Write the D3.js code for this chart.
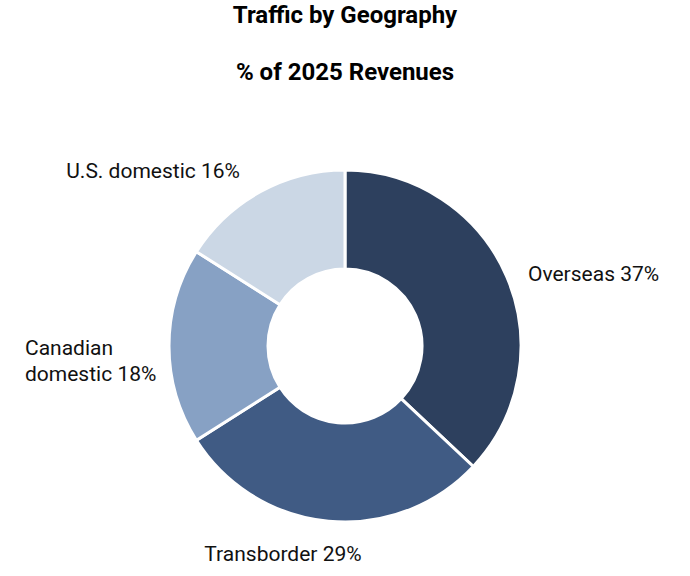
<!DOCTYPE html>
<html><head><meta charset="utf-8">
<script src="https://cdn.jsdelivr.net/npm/d3@7"></script>
<style>body{margin:0;background:#fff}text{font-family:Roboto,sans-serif}</style>
</head><body>
<svg id="chart" width="690" height="576"></svg>
<script>
var categories = ["Overseas", "Transborder", "Canadian domestic", "U.S. domestic"];
var shares = [37, 29, 18, 16];
var colors = ["#2d405e", "#405b84", "#87a1c4", "#cbd7e5"];
// label lines per slice and their anchor positions
var labelLines = [["Overseas 37%"], ["Transborder 29%"], ["Canadian", "domestic 18%"], ["U.S. domestic 16%"]];
var labelPos = [[528, 281, "start"], [283, 561, "middle"], [25, 355, "start"], [240, 178, "end"]];

var svg = d3.select("#chart");
svg.append("text").attr("x", 345).attr("y", 23).attr("text-anchor", "middle")
  .attr("font-size", 24).attr("font-weight", "bold").text("Traffic by Geography");
svg.append("text").attr("x", 345).attr("y", 80).attr("text-anchor", "middle")
  .attr("font-size", 24).attr("font-weight", "bold").text("% of 2025 Revenues");

var cx = 345, cy = 346;
var pie = d3.pie().sort(null).value(function(d){ return d; });
var arc = d3.arc().innerRadius(77).outerRadius(176);
var g = svg.append("g").attr("transform", "translate(" + cx + "," + cy + ")");
g.selectAll("path").data(pie(shares)).enter().append("path")
  .attr("d", arc)
  .attr("fill", function(d, i){ return colors[i]; })
  .attr("stroke", "#fff").attr("stroke-width", 3);

labelLines.forEach(function(lines, i){
  var t = svg.append("text").attr("x", labelPos[i][0]).attr("y", labelPos[i][1])
    .attr("text-anchor", labelPos[i][2]).attr("font-size", 21).attr("fill", "#111");
  lines.forEach(function(l, j){
    t.append("tspan").attr("x", labelPos[i][0]).attr("dy", j ? 26 : 0).text(l);
  });
});
</script>
</body></html>
